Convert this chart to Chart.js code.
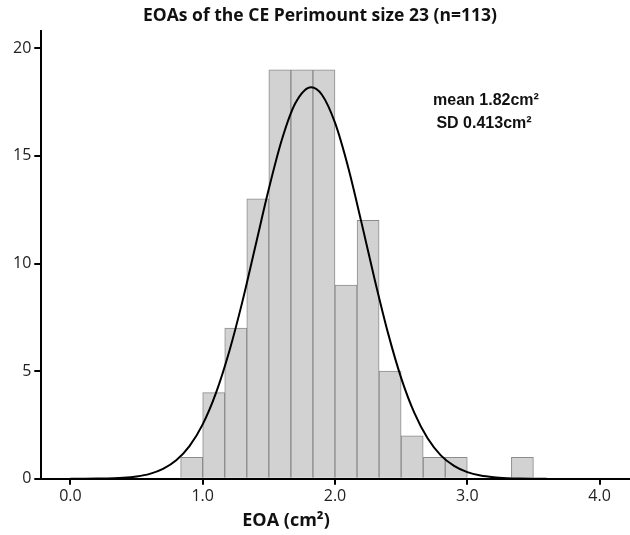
<!DOCTYPE html>
<html>
<head>
<meta charset="utf-8">
<script src="https://cdn.jsdelivr.net/npm/chart.js@4.4.1/dist/chart.umd.min.js"></script>
<style>
html, body { margin: 0; padding: 0; background: #fff; }
#wrap { width: 630px; height: 535px; }
</style>
</head>
<body>
<div id="wrap"><canvas id="hist"></canvas></div>
<script>
// histogram: bin left edges (width 1/6 cm2) and counts
var binWidth = 1 / 6;
var binStart = [0.8333, 1.0, 1.1667, 1.3333, 1.5, 1.6667, 1.8333, 2.0, 2.1667, 2.3333, 2.5, 2.6667, 2.8333, 3.0, 3.1667, 3.3333];
var counts = [1, 4, 7, 13, 19, 19, 19, 9, 12, 5, 2, 1, 1, 0, 0, 1];

// fitted normal curve (mean 1.82, SD 0.413)
var curveX = [0.0, 0.2, 0.4, 0.5, 0.6, 0.7, 0.8, 0.9, 1.0, 1.1, 1.2, 1.3, 1.4, 1.5, 1.6, 1.7, 1.82, 1.9, 2.0, 2.1, 2.2, 2.3, 2.4, 2.5, 2.6, 2.7, 2.8, 2.9, 3.0, 3.1, 3.2, 3.3, 3.4, 3.6];
var curveY = [0.0, 0.01, 0.05, 0.11, 0.23, 0.46, 0.86, 1.52, 2.53, 3.98, 5.9, 8.23, 10.85, 13.47, 15.78, 17.44, 18.19, 17.85, 16.54, 14.46, 11.91, 9.26, 6.79, 4.69, 3.06, 1.88, 1.09, 0.6, 0.31, 0.15, 0.07, 0.03, 0.01, 0.0];

var xTicks = [0, 1, 2, 3, 4];
var yTicks = [0, 5, 10, 15, 20];

var barData = [];
for (var i = 0; i < binStart.length; i++) {
    barData.push({ x: binStart[i] + binWidth / 2, y: counts[i] });
}
var lineData = [];
for (var j = 0; j < curveX.length; j++) {
    lineData.push({ x: curveX[j], y: curveY[j] });
}

var notes = {
    id: 'notes',
    afterDraw: function(chart) {
        var ctx = chart.ctx;
        ctx.save();
        ctx.fillStyle = '#111';
        ctx.textAlign = 'center';
        ctx.textBaseline = 'middle';
        ctx.font = 'bold 16px "Liberation Sans", Arial, sans-serif';
        ctx.fillText('mean 1.82cm²', 486, 101);
        ctx.fillText('SD 0.413cm²', 484, 124);
        ctx.font = 'bold 18px "Open Sans", sans-serif';
        ctx.fillText('EOA (cm²)', 286, 521);
        ctx.restore();
    }
};

var ctx = document.getElementById('hist').getContext('2d');
var myChart = new Chart(ctx, {
    type: 'bar',
    data: {
        datasets: [{
            type: 'line',
            data: lineData,
            borderColor: '#000',
            borderWidth: 2,
            pointRadius: 0,
            tension: 0.4,
            cubicInterpolationMode: 'monotone',
            fill: false,
            order: 0
        },
        {
            type: 'bar',
            data: barData,
            backgroundColor: '#d2d2d2',
            borderColor: '#8c8c8c',
            borderWidth: 1,
            barPercentage: 1,
            categoryPercentage: 1,
            grouped: false,
            order: 1
        }]
    },
    plugins: [notes],
    options: {
        responsive: true,
        maintainAspectRatio: false,
        animation: false,
        layout: { padding: { left: 10, right: 0, top: 0, bottom: 27 } },
        plugins: {
            legend: { display: false },
            tooltip: { enabled: false },
            title: {
                display: true,
                text: 'EOAs of the CE Perimount size 23 (n=113)',
                color: '#111',
                font: { family: '"Open Sans", sans-serif', size: 17.5, weight: 'bold' },
                padding: { top: 6, bottom: 4 }
            }
        },
        scales: {
            x: {
                type: 'linear',
                min: -0.22,
                max: 4.23,
                offset: false,
                afterBuildTicks: function(scale) {
                    scale.ticks = xTicks.map(function(v) { return { value: v }; });
                },
                ticks: {
                    color: '#222',
                    font: { family: '"Open Sans", sans-serif', size: 16 },
                    padding: 2,
                    maxRotation: 0,
                    callback: function(v) { return v.toFixed(1); }
                },
                grid: { offset: false, drawOnChartArea: false, drawTicks: true, tickLength: 6, color: '#000', lineWidth: 2 },
                border: { display: true, color: '#000', width: 2 }
            },
            y: {
                min: 0,
                max: 20.8,
                afterBuildTicks: function(scale) {
                    scale.ticks = yTicks.map(function(v) { return { value: v }; });
                },
                ticks: {
                    color: '#222',
                    font: { family: '"Open Sans", sans-serif', size: 16 },
                    padding: 3
                },
                grid: { drawOnChartArea: false, drawTicks: true, tickLength: 7, color: '#000', lineWidth: 2 },
                border: { display: true, color: '#000', width: 2 }
            }
        }
    }
});
</script>
</body>
</html>
